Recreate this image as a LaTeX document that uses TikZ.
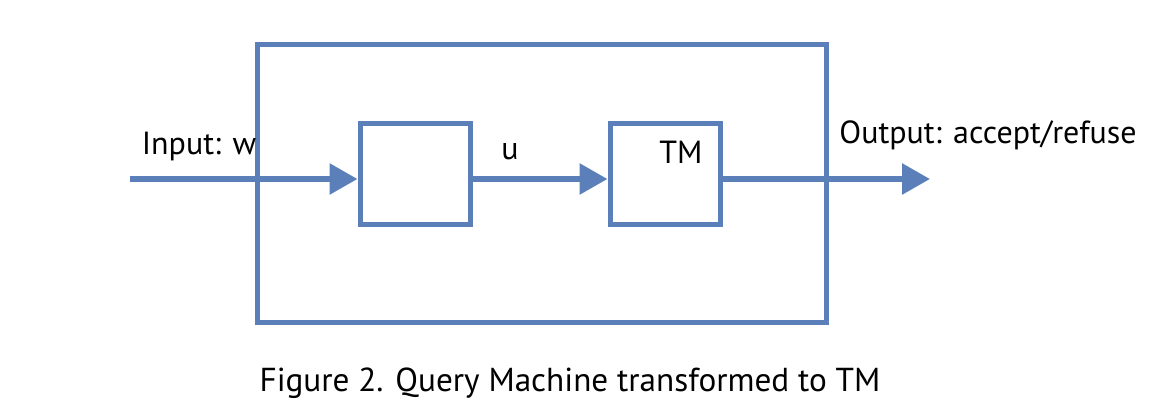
\documentclass[tikz,border=0pt]{standalone}
\usepackage{fontspec}
\setmainfont{PT Sans}
\usetikzlibrary{arrows.meta,calc,positioning}
\definecolor{qblue}{RGB}{90,127,185}

\begin{document}
\begin{tikzpicture}[x=0.5pt,y=0.5pt,
	box/.style={draw=qblue, line width=2.5pt, inner sep=0pt},
	flow/.style={draw=qblue, line width=3pt, -{Triangle[length=14pt,width=15pt]}},
	lbl/.style={font=\fontsize{16}{19}\selectfont, inner sep=0pt}]
	\useasboundingbox (0,0) rectangle (1161,413);

	%% outer machine
	\node[box, minimum width=284.5pt, minimum height=138.5pt] (qm) at (541.5,229.5) {};

	%% inner boxes
	\node[box, minimum width=55pt, minimum height=50pt] (b1) at (415,239) {};
	\node[box, minimum width=55pt, minimum height=50pt] (tm) at (665,239) {};

	%% free ends of the flow
	\coordinate (in) at (130,234);
	\coordinate (out) at (930,234);

	%% flow arrows
	\draw[flow] (in) -- (in -| b1.west);
	\draw[flow] (in -| b1.east) -- (in -| tm.west);
	\draw[flow] (in -| tm.east) -- (out);

	%% labels
	\node[lbl] (lin) at (199,266) {Input: w};
	\node[lbl] (lu) at (510,261) {u};
	\node[lbl] (ltm) at (681,261) {TM};
	\node[lbl] (lout) at (988,278) {Output: accept/refuse};
	\node[lbl, font=\fontsize{16.6}{19}\selectfont] (cap) at (570,30) {Figure 2. Query Machine transformed to TM};
\end{tikzpicture}
\end{document}
